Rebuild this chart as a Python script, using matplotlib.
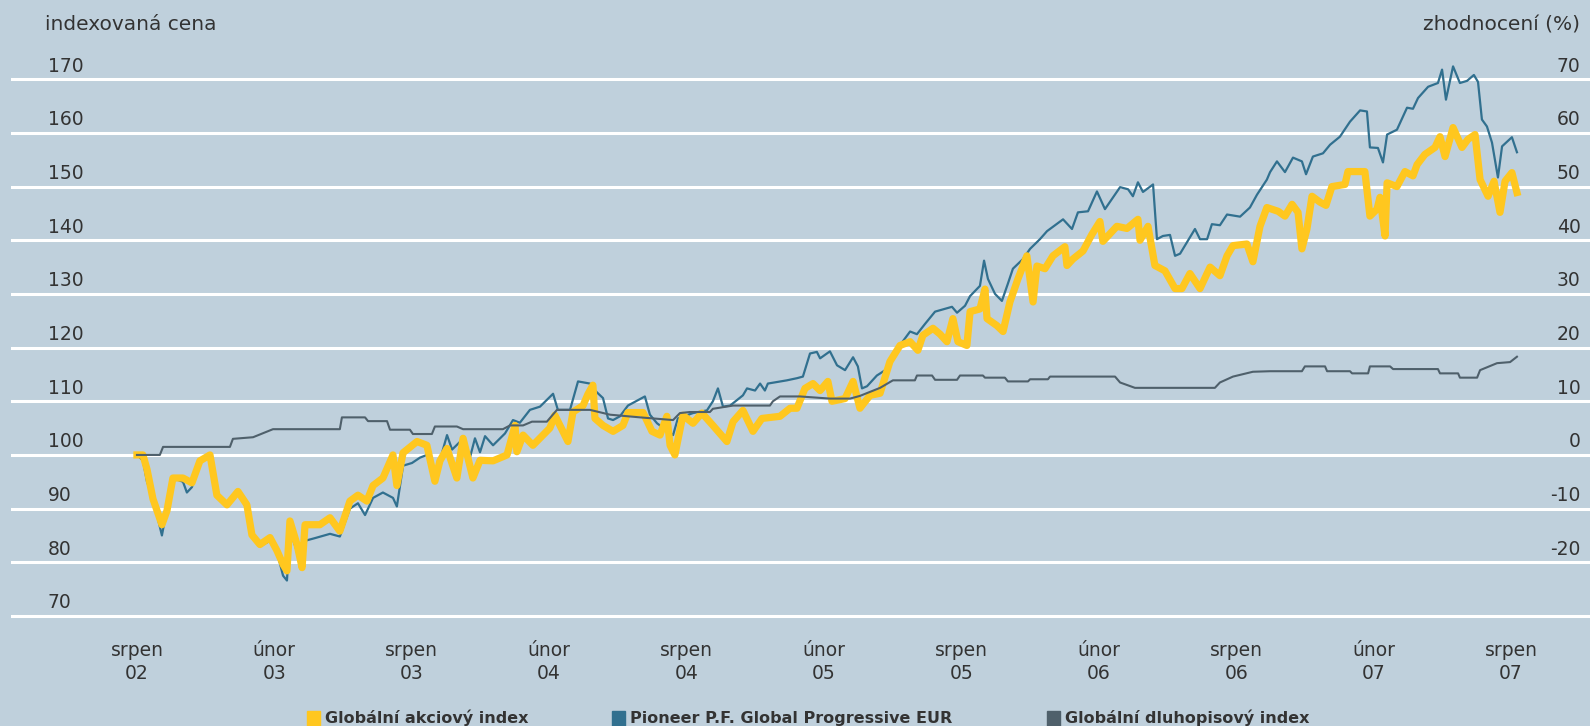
import matplotlib
matplotlib.use("Agg")
from matplotlib import pyplot as plt
from matplotlib import transforms
from matplotlib.patches import Rectangle

# time in months since srpen 2002 (0 = srpen 02, 60 = srpen 07)
# Globalni akciovy index (yellow)
eq_t = [0.00, 0.26, 0.44, 0.70, 1.09, 1.31, 1.57, 2.01, 2.40, 2.75, 3.19, 3.49, 3.93, 4.41, 4.80,
        5.02, 5.37, 5.81, 6.11, 6.38, 6.55, 6.68, 6.99, 7.21, 7.34, 7.99, 8.43, 8.86, 9.30, 9.65,
        10.04, 10.31, 10.74, 11.18, 11.35, 11.62, 12.23, 12.66, 13.01, 13.23, 13.54, 13.97, 14.24,
        14.67, 14.98, 15.55, 16.16, 16.51, 16.59, 16.86, 17.29, 18.03, 18.25, 18.82, 19.04, 19.48,
        19.69, 19.91, 20.00, 20.35, 20.79, 21.22, 21.44, 22.10, 22.49, 22.84, 23.14, 23.28, 23.49,
        23.84, 24.28, 24.67, 25.15, 25.76, 26.03, 26.46, 26.90, 27.29, 28.08, 28.52, 28.82, 29.17,
        29.52, 29.83, 30.17, 30.35, 30.92, 31.27, 31.57, 32.01, 32.45, 32.88, 33.32, 33.76, 34.10,
        34.32, 34.76, 35.07, 35.37, 35.63, 35.85, 36.24, 36.38, 36.81, 37.03, 37.12, 37.55, 37.82,
        38.12, 38.47, 38.86, 39.13, 39.30, 39.65, 40.00, 40.52, 40.61, 40.87, 41.31, 41.70, 42.05,
        42.18, 42.79, 43.23, 43.71, 43.80, 44.15, 44.45, 44.89, 45.33, 45.63, 45.98, 46.42, 46.86,
        47.29, 47.60, 47.86, 48.47, 48.73, 49.04, 49.34, 49.83, 50.13, 50.44, 50.70, 50.87, 51.09,
        51.31, 51.66, 51.92, 52.18, 52.75, 52.88, 53.62, 53.84, 54.15, 54.28, 54.50, 54.59, 55.02,
        55.37, 55.72, 55.90, 56.24, 56.68, 56.90, 57.12, 57.47, 57.86, 58.12, 58.43, 58.65, 59.00,
        59.26, 59.52, 59.74, 60.04, 60.26]
eq_v = [100, 100, 97.3, 91.8, 87, 89.6, 95.7, 95.7, 94.8, 98.9, 100, 92.5, 90.7, 93.2, 90.7,
        85.1, 83.3, 84.6, 82.2, 79.6, 78.4, 87.7, 83.3, 79, 87, 87, 88.3, 85.8, 91.4, 92.5,
        91.4, 94.3, 95.7, 100, 94.3, 100.4, 102.5, 101.8, 95.1, 98.9, 101.2, 95.7, 103.1,
        95.7, 99, 98.9, 100, 105.5, 100.6, 103.7, 101.8, 105, 107.4, 102.5, 108, 109.2,
        111.3, 113, 106.8, 105.5, 104.4, 105.5, 107.9, 107.9, 104.4, 103.7, 107.2, 101.8, 100,
        107.4, 105.9, 107.8, 105.5, 102.5, 106.2, 108.3, 104.4, 106.8, 107.2, 108.7, 108.7, 112.4,
        113.3, 112, 113.7, 110, 110.5, 113.7, 108.7, 111.1, 111.5, 117.4, 120.4, 121.1, 119.5,
        122.3, 123.6, 122.5, 121.1, 125.4, 121.1, 120.4, 126.7, 127.2, 130.9, 125.4, 124.1, 123,
        128.5, 132.8, 137.1, 128.5, 135.2, 134.7, 137.1, 138.8, 135.3, 136.5, 138, 141.1, 143.5,
        139.8, 142.6, 142.2, 143.9, 140, 142.6, 135.3, 134.3, 131, 131, 133.8, 131, 135,
        133.4, 137.1, 139, 139.3, 136, 142.6, 146.1, 145.4, 144.5, 146.7, 145.2, 138.4, 142.1,
        148.2, 147.1, 146.5, 150, 150.4, 152.8, 152.8, 144.5, 145.8, 148, 140.8, 150.7, 150,
        152.8, 152, 154.1, 156, 157.3, 159.3, 155.6, 161, 157.3, 158.8, 159.7, 151.3, 148.2,
        151, 145.2, 151, 152.6, 148.9]

# Pioneer P.F. Global Progressive EUR (blue)
fund_t = [0.00, 0.26, 0.44, 0.70, 1.09, 1.22, 1.57, 2.01, 2.18, 2.40, 2.75, 3.19, 3.49, 3.93, 4.41,
          4.80, 5.02, 5.37, 5.81, 6.11, 6.38, 6.55, 6.68, 6.99, 7.21, 7.34, 7.77, 8.43, 8.86, 9.30,
          9.65, 9.96, 10.31, 10.74, 11.18, 11.35, 11.62, 12.01, 12.36, 12.66, 13.01, 13.23, 13.54,
          13.76, 14.24, 14.54, 14.76, 14.98, 15.20, 15.55, 16.07, 16.42, 16.72, 17.16, 17.60, 18.17,
          18.38, 18.91, 19.26, 19.78, 20.00, 20.35, 20.57, 20.79, 21.09, 21.44, 22.18, 22.40, 22.71,
          23.41, 23.62, 24.28, 24.89, 25.15, 25.37, 25.59, 25.90, 26.46, 26.64, 26.99, 27.21, 27.42,
          27.55, 28.38, 28.82, 29.08, 29.39, 29.69, 29.83, 30.26, 30.57, 30.92, 31.27, 31.48, 31.66,
          31.88, 32.31, 32.75, 33.19, 33.76, 34.06, 34.41, 34.85, 35.59, 35.81, 36.16, 36.38, 36.81,
          36.99, 37.16, 37.47, 37.77, 38.03, 38.25, 38.69, 39.00, 39.43, 39.74, 40.44, 40.83, 41.09,
          41.53, 41.92, 42.27, 42.93, 43.28, 43.49, 43.71, 43.93, 44.37, 44.54, 44.80, 45.11, 45.33,
          45.55, 46.20, 46.42, 46.73, 46.94, 47.29, 47.60, 48.17, 48.60, 48.91, 49.34, 49.48, 49.78,
          50.13, 50.48, 50.87, 51.05, 51.35, 51.79, 52.10, 52.53, 52.97, 53.41, 53.71, 53.84, 54.19,
          54.41, 54.59, 55.02, 55.46, 55.72, 55.94, 56.38, 56.81, 56.99, 57.16, 57.47, 57.77, 58.08,
          58.38, 58.56, 58.73, 58.95, 59.17, 59.43, 59.61, 60.04, 60.26]
fund_v = [100, 99, 95, 92, 85, 88, 95.7, 95, 93, 94, 98.9, 100, 92.5, 90.7, 93,
          90, 85, 83, 84, 82, 77.5, 76.6, 86, 82, 80, 84, 84.5, 85.3, 84.8, 90,
          91, 88.8, 92, 93, 92, 90.4, 98, 98.5, 99.5, 100, 96, 99, 103.7,
          101, 103, 99.5, 103.1, 100.5, 103.5, 101.8, 104, 106.5, 106, 108.4, 109, 111.4,
          108.4, 108.4, 113.7, 113.3, 112, 110.6, 106.8, 106.5, 107.2, 109.2, 110.9, 107.5, 105.9,
          103.7, 106.8, 107.8, 108.3, 110, 112.4, 109, 109.2, 111.1, 112.4, 112, 113.3, 112,
          113.3, 113.9, 114.3, 114.6, 118.9, 119.2, 118, 119.3, 116.7, 115.8, 118.2, 116.5, 112.4,
          112.8, 114.8, 116, 119.7, 123, 122.5, 124.4, 126.7, 127.6, 126.5, 127.8, 129.6, 131.5,
          136.2, 132.8, 130, 128.7, 131.9, 134.7, 136.5, 138.4, 140.2, 141.7, 143.9, 142.1, 145.2,
          145.4, 149.1, 145.8, 149.9, 149.5, 148.2, 150.8, 149, 150.4, 140.2, 140.8, 141, 137.1,
          137.5, 142.1, 140.2, 140.2, 143, 142.8, 144.8, 144.4, 146.1, 148.5, 151.3, 152.7, 154.7,
          152.7, 155.4, 154.7, 152.3, 155.6, 156.2, 157.8, 159.3, 162.1, 164.2, 164, 157.3, 157.2,
          154.5, 159.7, 160.6, 164.7, 164.5, 166.5, 168.6, 169.3, 171.8, 166.2, 172.4, 169.3, 169.7,
          170.8, 169.5, 162.5, 161.2, 158.2, 151.7, 157.5, 159.2, 156.4]

# Globalni dluhopisovy index (dark grey)
bond_t = [0.00, 1.00, 1.14, 4.06, 4.19, 5.07, 5.94, 8.86, 8.95, 9.96, 10.09, 10.92, 11.05, 11.92,
          12.05, 12.88, 13.01, 13.97, 14.24, 15.98, 16.29, 16.86, 17.25, 17.90, 18.34, 19.78, 20.66,
          21.97, 23.41, 23.71, 24.15, 25.02, 25.15, 26.03, 27.64, 27.77, 28.08, 28.95, 30.26, 31.14,
          31.57, 32.45, 33.01, 33.97, 34.06, 34.72, 34.85, 35.81, 35.94, 36.94, 37.03, 37.90, 38.03,
          38.91, 39.00, 39.78, 39.87, 42.71, 42.93, 43.58, 47.07, 47.29, 47.86, 48.73, 49.48, 50.87,
          51.00, 51.88, 51.97, 52.97, 53.06, 53.76, 53.84, 54.72, 54.85, 56.81, 56.90, 57.69, 57.77,
          58.52, 58.65, 59.39, 59.96, 60.26]
bond_v = [100, 100, 101.5, 101.5, 103, 103.3, 104.8, 104.8, 107, 107, 106.3, 106.3, 104.7, 104.7,
          103.9, 103.9, 105.3, 105.3, 104.8, 104.8, 105.5, 105.5, 106.2, 106.2, 108.4, 108.4, 107.5,
          107, 106.5, 107.8, 108, 108, 108.6, 109.2, 109.2, 110, 110.9, 110.9, 110.5, 110.5,
          111, 112.5, 113.9, 113.9, 114.8, 114.8, 114, 114, 114.8, 114.8, 114.4, 114.4, 113.7,
          113.7, 114.1, 114.1, 114.6, 114.6, 113.5, 112.5, 112.5, 113.5, 114.6, 115.5, 115.6, 115.6,
          116.5, 116.5, 115.6, 115.6, 115.2, 115.2, 116.5, 116.5, 116, 116, 115.2, 115.2, 114.4,
          114.4, 115.8, 117.1, 117.3, 118.3]

tick_months = [0, 6, 12, 18, 24, 30, 36, 42, 48, 54, 60]
tick_labels = ["srpen\n02", "únor\n03", "srpen\n03", "únor\n04", "srpen\n04", "únor\n05",
               "srpen\n05", "únor\n06", "srpen\n06", "únor\n07", "srpen\n07"]
left_ticks = [70, 80, 90, 100, 110, 120, 130, 140, 150, 160, 170]
right_ticks = [80, 90, 100, 110, 120, 130, 140, 150, 160, 170]
legend_labels = ["Globální akciový index", "Pioneer P.F. Global Progressive EUR",
                 "Globální dluhopisový index"]

bg = "#bfd0dc"
c_eq = "#ffc71f"
c_fund = "#31708f"
c_bond = "#4f606b"
c_text = "#333333"

fig = plt.figure(figsize=(15.9, 7.26), dpi=100, facecolor=bg)
ax = fig.add_axes([11 / 1590, 0.1368, 1579 / 1590, 0.7836])
ax.set_facecolor(bg)

ax.plot(fund_t, fund_v, color=c_fund, lw=1.6, zorder=3)
ax.plot(eq_t, eq_v, color=c_eq, lw=5.2, zorder=4)
ax.plot(bond_t, bond_v, color=c_bond, lw=1.5, zorder=5)

ax.set_xlim(-5.5, 63.45)
ax.set_ylim(68, 174)
ax.set_yticks(left_ticks)
ax.yaxis.grid(True, color="white", lw=2.2)
ax.set_axisbelow(True)
ax.tick_params(axis="y", left=False, labelleft=False)
for s in ax.spines.values():
    s.set_visible(False)

ax.set_xticks(tick_months)
ax.set_xticklabels(tick_labels, fontsize=13.5, color=c_text, linespacing=1.3)
ax.tick_params(axis="x", length=0, pad=10)

# y labels sit just above their gridline
trans = transforms.blended_transform_factory(ax.transAxes, ax.transData)
lift = transforms.offset_copy(trans, fig=fig, x=0, y=13, units="dots")
for v in left_ticks:
    ax.text(0.0234, v, str(v), transform=lift, va="center", ha="left",
            fontsize=13.5, color=c_text)
for v in right_ticks:
    ax.text(0.994, v, str(v - 100), transform=lift, va="center", ha="right",
            fontsize=13.5, color=c_text)

fig.text(45 / 1590, 1 - 25 / 726, "indexovaná cena", fontsize=14.5, color=c_text, va="center")
fig.text(1580 / 1590, 1 - 25 / 726, "zhodnocení (%)", fontsize=14.5, color=c_text,
         va="center", ha="right")

# legend along the bottom edge
leg_x = [307, 612, 1047]
for x0, lab, col in zip(leg_x, legend_labels, [c_eq, c_fund, c_bond]):
    fig.patches.append(Rectangle((x0 / 1590, 0), 13 / 1590, 15 / 726,
                                 transform=fig.transFigure, color=col))
    fig.text((x0 + 18) / 1590, 8 / 726, lab, fontsize=11.5, color=c_text, va="center",
             fontweight="bold")

fig.savefig("out.png", dpi=100, facecolor=bg)
